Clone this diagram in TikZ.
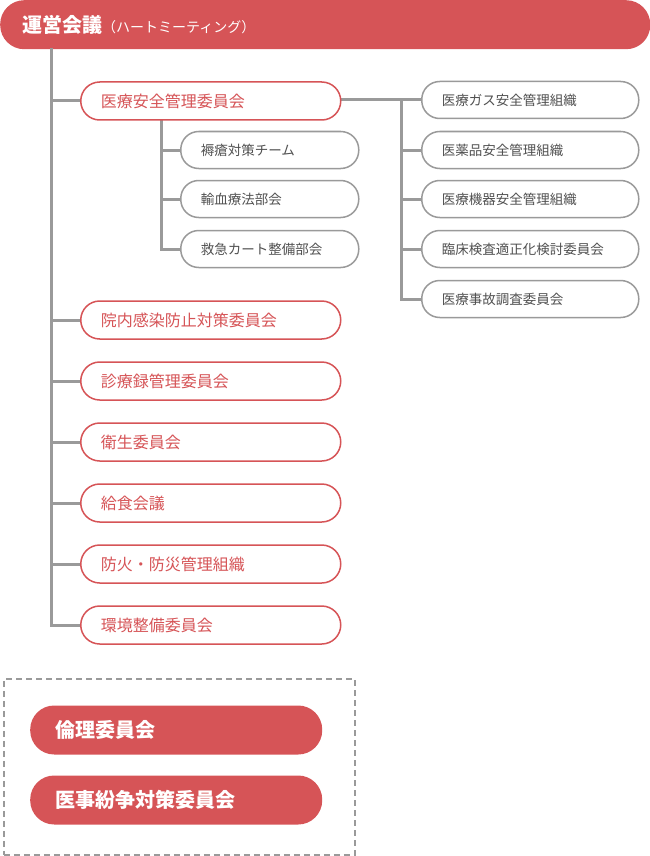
\documentclass[tikz,border=0pt]{standalone}
\usepackage{fontspec}
\setmainfont{Noto Sans CJK JP}
\usepackage{tikz}
\usetikzlibrary{positioning}
\definecolor{mainred}{HTML}{D65457}
\definecolor{linegray}{HTML}{9A9A9A}
\definecolor{textgray}{HTML}{505050}
\tikzset{
  red box/.style={draw=mainred,line width=1.5pt,fill=white,rounded corners=19pt,minimum width=260pt,minimum height=38pt,text width=220pt,align=left,inner sep=0pt,text=mainred,font=\fontsize{16}{16}\selectfont},
  gray box/.style={draw=linegray,line width=1.5pt,fill=white,rounded corners=18pt,minimum height=37pt,align=left,inner sep=0pt,text=textgray,font=\fontsize{13.5}{13.5}\selectfont},
  fill box/.style={fill=mainred,rounded corners=24pt,minimum width=292pt,minimum height=49pt,text width=242pt,align=left,inner sep=0pt,text=white,font=\bfseries\fontsize{20}{20}\selectfont},
  link/.style={linegray,line width=3pt},
}
\begin{document}
\begin{tikzpicture}[x=1pt,y=-1pt]
    \useasboundingbox (0,0) rectangle (650,856);
    \node[fill=mainred,rounded corners=24pt,minimum width=650pt,minimum height=49pt,text width=606pt,align=left,inner sep=0pt,text=white,anchor=north west] (top) at (0,0) {{\bfseries\fontsize{20}{20}\selectfont 運営会議}{\fontsize{14}{14}\selectfont （ハートミーティング）}};

    % trunk
    \coordinate (trunk) at (51,48);
    \draw[link] (trunk) |- (80,625);
    \foreach \y in {101,320,381,442,503,564}
      \draw[link] (51,\y) -- (80,\y);
    \draw[link] (161,120) |- (180,249);
    \foreach \y in {150,199}
      \draw[link] (161,\y) -- (180,\y);
    \draw[link] (340,100) -- (421,100);
    \draw[link] (401,100) |- (421,299);
    \foreach \y in {150,199,249}
      \draw[link] (401,\y) -- (421,\y);

    \node[red box,anchor=west] (r1) at (80,101) {医療安全管理委員会};
    \node[red box,anchor=west] (r2) at (80,320) {院内感染防止対策委員会};
    \node[red box,anchor=west] (r3) at (80,381) {診療録管理委員会};
    \node[red box,anchor=west] (r4) at (80,442) {衛生委員会};
    \node[red box,anchor=west] (r5) at (80,503) {給食会議};
    \node[red box,anchor=west] (r6) at (80,564) {防火・防災管理組織};
    \node[red box,anchor=west] (r7) at (80,625) {環境整備委員会};

    \node[gray box,anchor=west,minimum width=178pt,text width=138pt] (s1) at (180,150) {褥瘡対策チーム};
    \node[gray box,anchor=west,minimum width=178pt,text width=138pt] (s2) at (180,199) {輸血療法部会};
    \node[gray box,anchor=west,minimum width=178pt,text width=138pt] (s3) at (180,249) {救急カート整備部会};

    \node[gray box,anchor=west,minimum width=217pt,text width=177pt] (g1) at (421,100) {医療ガス安全管理組織};
    \node[gray box,anchor=west,minimum width=217pt,text width=177pt] (g2) at (421,150) {医薬品安全管理組織};
    \node[gray box,anchor=west,minimum width=217pt,text width=177pt] (g3) at (421,199) {医療機器安全管理組織};
    \node[gray box,anchor=west,minimum width=217pt,text width=177pt] (g4) at (421,249) {臨床検査適正化検討委員会};
    \node[gray box,anchor=west,minimum width=217pt,text width=177pt] (g5) at (421,299) {医療事故調査委員会};

    \node[draw=linegray,line width=1.5pt,dash pattern=on 6pt off 4pt,minimum width=351pt,minimum height=176pt,anchor=north west] (other) at (3,678) {};
    \node[fill box,anchor=west] (e1) at (30,730) {倫理委員会};
    \node[fill box,anchor=west] (e2) at (30,800) {医事紛争対策委員会};
\end{tikzpicture}
\end{document}
